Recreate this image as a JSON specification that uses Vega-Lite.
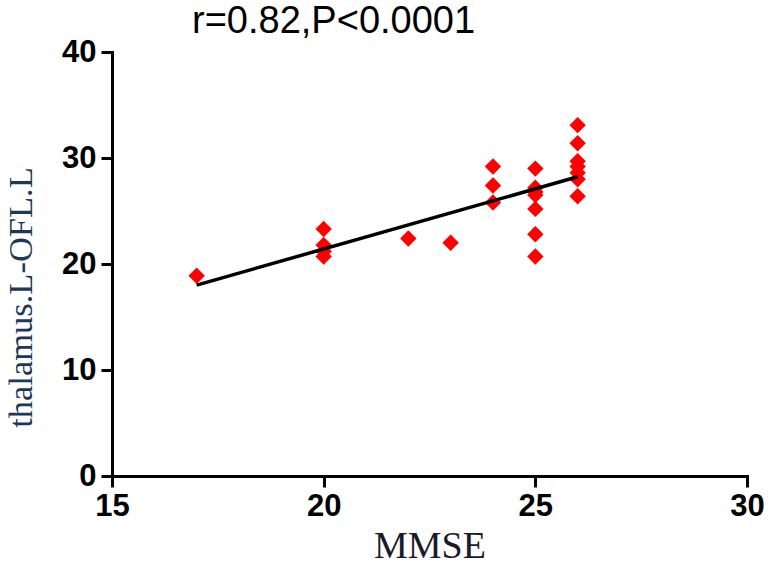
{
  "$schema": "https://vega.github.io/schema/vega-lite/v6.json",
  "width": 635,
  "height": 424,
  "autosize": "none",
  "padding": {"left": 112, "top": 52, "right": 21, "bottom": 90},
  "background": "white",
  "title": {
    "text": "r=0.82,P<0.0001",
    "anchor": "start",
    "dx": 189,
    "font": "Liberation Sans",
    "fontSize": 38,
    "fontWeight": "normal",
    "color": "black",
    "offset": -5
  },
  "data": {
    "values": [
      {"MMSE": 17, "value": 18.9},
      {"MMSE": 20, "value": 23.3},
      {"MMSE": 20, "value": 21.8},
      {"MMSE": 20, "value": 21.2},
      {"MMSE": 20, "value": 20.7},
      {"MMSE": 22, "value": 22.4},
      {"MMSE": 23, "value": 22.0},
      {"MMSE": 24, "value": 29.2},
      {"MMSE": 24, "value": 27.4},
      {"MMSE": 24, "value": 25.8},
      {"MMSE": 25, "value": 29.0},
      {"MMSE": 25, "value": 27.2},
      {"MMSE": 25, "value": 26.8},
      {"MMSE": 25, "value": 26.5},
      {"MMSE": 25, "value": 25.2},
      {"MMSE": 25, "value": 22.8},
      {"MMSE": 25, "value": 20.7},
      {"MMSE": 26, "value": 33.1},
      {"MMSE": 26, "value": 31.4},
      {"MMSE": 26, "value": 29.7},
      {"MMSE": 26, "value": 29.2},
      {"MMSE": 26, "value": 28.6},
      {"MMSE": 26, "value": 28.0},
      {"MMSE": 26, "value": 26.4}
    ]
  },
  "encoding": {
    "x": {
      "field": "MMSE",
      "type": "quantitative",
      "scale": {"domain": [15, 30], "nice": false, "zero": false},
      "axis": {
        "values": [15, 20, 25, 30],
        "title": "MMSE",
        "titleFont": "Liberation Serif",
        "titleFontSize": 38,
        "titleFontWeight": "normal",
        "titleColor": "#1a1a2a",
        "titlePadding": 6,
        "labelPadding": 4
      }
    },
    "y": {
      "field": "value",
      "type": "quantitative",
      "scale": {"domain": [0, 40], "nice": false},
      "axis": {
        "values": [0, 10, 20, 30, 40],
        "title": "thalamus.L-OFL.L",
        "titleFont": "Liberation Serif",
        "titleFontSize": 34.5,
        "titleFontWeight": "normal",
        "titleColor": "#1c3a57",
        "titleBaseline": "alphabetic",
        "titleY": 245,
        "titleX": -81,
        "labelPadding": 5
      }
    }
  },
  "layer": [
    {
      "mark": {"type": "point", "shape": "diamond", "filled": true, "color": "#ff0000", "size": 270, "opacity": 1}
    },
    {
      "transform": [{"regression": "value", "on": "MMSE"}],
      "mark": {"type": "line", "color": "black", "strokeWidth": 3.5}
    }
  ],
  "config": {
    "view": {"stroke": null},
    "axis": {
      "grid": false,
      "domainColor": "black",
      "domainWidth": 3,
      "domainCap": "square",
      "tickColor": "black",
      "tickWidth": 3,
      "tickSize": 11,
      "labelFont": "Liberation Sans",
      "labelFontWeight": "bold",
      "labelFontSize": 31,
      "labelColor": "black",
      "labelFlush": false,
      "labelOverlap": false
    }
  }
}
